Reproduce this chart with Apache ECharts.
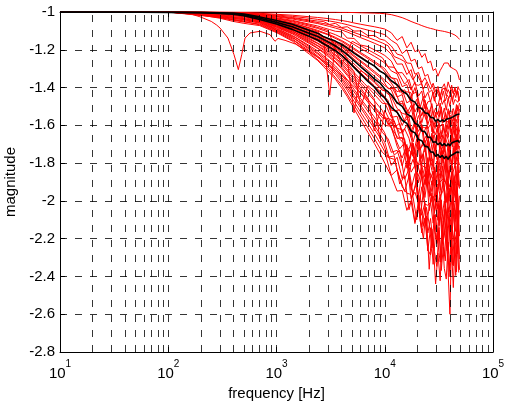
<!DOCTYPE html>
<html><head><meta charset="utf-8">
<script src="https://cdn.jsdelivr.net/npm/echarts@6/dist/echarts.min.js"></script>
<style>html,body{margin:0;padding:0;background:#fff}#c{width:507px;height:401px}</style>
</head><body><div id="c"></div>
<script>
// frequency grid [Hz]
const freq = [10,30,100,200,300,400,500,700,1000,1400,2000,2400,2700,3100,3500,4000,4500,5200,6000,7000,8000,9000,
  10000,11500,13000,14500,16000,17500,19000,20500,22000,23500,25000,26500,28000,29500,31000,32500,34000,35500,37000,38500,40000,41500,43000,44500,46000,47500,49000];
// second (offset) frequency grid used by another group of measurements
const freq2 = [10,100,300,500,700,1000,1500,2000,3000,4000,5000,6500,8000,9500,
  10750,12250,13750,15250,16750,18250,19750,21250,22750,24250,25750,27250,28750,30250,31750,33250,34750,36250,37750,39250,40750,42250,43750,45250,46750,48250];

// red measurement curves (grid: freq)
const topCurve = [-1,-1,-1,-1,-1,-1,-1,-1,-1,-1,-1,-1,-1,-1.001,-1.001,-1.002,-1.002,-1.003,-1.004,-1.005,-1.006,-1.007,
  -1.009,-1.014,-1.022,-1.03,-1.04,-1.05,-1.058,-1.065,-1.072,-1.078,-1.083,-1.087,-1.09,-1.094,-1.097,-1.099,-1.101,-1.103,-1.105,-1.108,-1.111,-1.114,-1.118,-1.122,-1.128,-1.135,-1.145];
const b1 = [-1,-1,-1,-1,-1.001,-1.002,-1.003,-1.007,-1.012,-1.017,-1.025,-1.029,-1.032,-1.036,-1.04,-1.045,-1.05,-1.058,-1.065,-1.072,-1.078,-1.084,
  -1.09,-1.11,-1.15,-1.13,-1.19,-1.16,-1.21,-1.20,-1.24,-1.22,-1.27,-1.26,-1.31,-1.30,-1.34,-1.31,-1.29,-1.27,-1.28,-1.27,-1.29,-1.28,-1.30,-1.29,-1.31,-1.33,-1.36];
const b2 = [-1,-1,-1,-1.001,-1.002,-1.003,-1.004,-1.01,-1.016,-1.023,-1.033,-1.039,-1.043,-1.048,-1.053,-1.06,-1.067,-1.077,-1.086,-1.096,-1.104,-1.112,
  -1.12,-1.15,-1.17,-1.22,-1.20,-1.26,-1.25,-1.30,-1.29,-1.34,-1.33,-1.38,-1.40,-1.44,-1.41,-1.45,-1.40,-1.38,-1.42,-1.37,-1.40,-1.39,-1.43,-1.41,-1.44,-1.42,-1.47];
const c1 = [-1,-1,-1,-1.001,-1.002,-1.003,-1.006,-1.012,-1.02,-1.029,-1.042,-1.048,-1.05,-1.066,-1.06,-1.082,-1.078,-1.101,-1.10,-1.125,-1.124,-1.143,
  -1.15,-1.18,-1.223,-1.231,-1.27,-1.272,-1.329,-1.32,-1.374,-1.348,-1.377,-1.408,-1.377,-1.421,-1.394,-1.447,-1.411,-1.402,-1.444,-1.411,-1.432,-1.387,-1.433,-1.397,-1.435,-1.395,-1.415];
const c2 = [-1,-1,-1,-1.001,-1.003,-1.004,-1.007,-1.016,-1.026,-1.037,-1.053,-1.061,-1.068,-1.077,-1.085,-1.095,-1.106,-1.121,-1.136,-1.151,-1.165,-1.178,
  -1.19,-1.224,-1.276,-1.275,-1.331,-1.305,-1.384,-1.388,-1.378,-1.455,-1.425,-1.476,-1.423,-1.479,-1.498,-1.445,-1.489,-1.464,-1.52,-1.456,-1.5,-1.441,-1.49,-1.463,-1.467,-1.478,-1.448];
const c3 = [-1,-1,-1,-1.002,-1.003,-1.005,-1.009,-1.019,-1.031,-1.044,-1.064,-1.074,-1.083,-1.093,-1.102,-1.105,-1.138,-1.14,-1.175,-1.183,-1.20,-1.215,
  -1.23,-1.26,-1.322,-1.321,-1.355,-1.413,-1.37,-1.445,-1.418,-1.512,-1.476,-1.47,-1.548,-1.508,-1.542,-1.482,-1.554,-1.508,-1.57,-1.512,-1.539,-1.527,-1.511,-1.544,-1.49,-1.524,-1.482];
const c4 = [-1,-1,-1,-1.002,-1.004,-1.006,-1.01,-1.022,-1.037,-1.052,-1.075,-1.087,-1.097,-1.109,-1.12,-1.136,-1.151,-1.172,-1.194,-1.215,-1.234,-1.252,
  -1.27,-1.312,-1.327,-1.395,-1.384,-1.461,-1.40,-1.481,-1.519,-1.467,-1.54,-1.517,-1.602,-1.531,-1.589,-1.522,-1.587,-1.56,-1.57,-1.585,-1.545,-1.597,-1.554,-1.601,-1.522,-1.575,-1.513];
const c5 = [-1,-1,-1,-1.002,-1.004,-1.007,-1.011,-1.025,-1.041,-1.058,-1.083,-1.097,-1.108,-1.121,-1.134,-1.151,-1.168,-1.192,-1.215,-1.239,-1.261,-1.281,
  -1.30,-1.348,-1.355,-1.433,-1.422,-1.428,-1.53,-1.492,-1.548,-1.49,-1.597,-1.549,-1.641,-1.579,-1.615,-1.607,-1.591,-1.638,-1.577,-1.621,-1.566,-1.646,-1.582,-1.651,-1.569,-1.59,-1.631];
const c6 = [-1,-1,-1,-1.003,-1.005,-1.007,-1.012,-1.027,-1.045,-1.064,-1.092,-1.106,-1.13,-1.44,-1.16,-1.166,-1.185,-1.211,-1.237,-1.263,-1.287,-1.309,
  -1.33,-1.376,-1.422,-1.411,-1.481,-1.467,-1.576,-1.502,-1.586,-1.521,-1.618,-1.594,-1.621,-1.649,-1.604,-1.673,-1.625,-1.688,-1.598,-1.664,-1.586,-1.667,-1.64,-1.595,-1.68,-1.607,-1.67];
const c7 = [-1,-1,-1,-1.003,-1.005,-1.008,-1.013,-1.029,-1.049,-1.069,-1.10,-1.116,-1.129,-1.145,-1.16,-1.181,-1.201,-1.23,-1.258,-1.287,-1.313,-1.337,
  -1.36,-1.392,-1.45,-1.437,-1.537,-1.494,-1.61,-1.548,-1.607,-1.613,-1.613,-1.678,-1.622,-1.683,-1.622,-1.723,-1.651,-1.739,-1.648,-1.674,-1.719,-1.619,-1.694,-1.625,-1.731,-1.651,-1.628];
const c8 = [-1,-1,-1,-1.003,-1.006,-1.009,-1.015,-1.032,-1.053,-1.075,-1.108,-1.125,-1.14,-1.157,-1.174,-1.196,-1.218,-1.249,-1.28,-1.311,-1.339,-1.365,
  -1.39,-1.412,-1.487,-1.47,-1.56,-1.548,-1.588,-1.632,-1.596,-1.693,-1.657,-1.74,-1.651,-1.738,-1.65,-1.752,-1.724,-1.678,-1.783,-1.699,-1.769,-1.647,-1.727,-1.752,-1.649,-1.725,-1.679];
const c9 = [-1,-1,-1,-1.004,-1.007,-1.011,-1.016,-1.034,-1.057,-1.081,-1.116,-1.135,-1.151,-1.17,-1.187,-1.211,-1.245,-1.535,-1.31,-1.335,-1.365,-1.393,
  -1.42,-1.449,-1.51,-1.536,-1.544,-1.635,-1.579,-1.663,-1.608,-1.742,-1.679,-1.791,-1.703,-1.743,-1.798,-1.69,-1.78,-1.708,-1.835,-1.745,-1.715,-1.817,-1.731,-1.78,-1.67,-1.788,-1.709];
const c10 = [-1,-1,-1,-1.005,-1.009,-1.014,-1.017,-1.037,-1.061,-1.087,-1.125,-1.145,-1.162,-1.182,-1.201,-1.226,-1.252,-1.287,-1.323,-1.359,-1.391,-1.421,
  -1.45,-1.52,-1.526,-1.601,-1.545,-1.664,-1.588,-1.725,-1.714,-1.679,-1.82,-1.738,-1.835,-1.71,-1.809,-1.845,-1.733,-1.824,-1.768,-1.88,-1.752,-1.837,-1.721,-1.822,-1.768,-1.783,-1.81];
const c11 = [-1,-1,-1,-1.006,-1.011,-1.017,-1.021,-1.039,-1.065,-1.093,-1.133,-1.154,-1.172,-1.194,-1.214,-1.241,-1.268,-1.315,-1.50,-1.39,-1.417,-1.449,
  -1.48,-1.558,-1.552,-1.644,-1.597,-1.664,-1.753,-1.651,-1.776,-1.713,-1.88,-1.792,-1.777,-1.907,-1.817,-1.88,-1.761,-1.901,-1.808,-1.927,-1.816,-1.863,-1.843,-1.814,-1.876,-1.781,-1.852];
const c12 = [-1,-1,-1,-1.007,-1.014,-1.021,-1.025,-1.042,-1.071,-1.10,-1.144,-1.167,-1.187,-1.21,-1.232,-1.261,-1.291,-1.332,-1.373,-1.414,-1.46,-1.67,
  -1.52,-1.592,-1.616,-1.622,-1.764,-1.691,-1.811,-1.685,-1.815,-1.874,-1.771,-1.885,-1.841,-1.979,-1.838,-1.941,-1.815,-1.936,-1.882,-1.90,-1.927,-1.851,-1.946,-1.871,-1.955,-1.818,-1.921];
const c13 = [-1,-1,-1,-1.008,-1.016,-1.025,-1.03,-1.046,-1.076,-1.108,-1.155,-1.18,-1.201,-1.226,-1.249,-1.281,-1.313,-1.358,-1.402,-1.455,-1.63,-1.53,
  -1.56,-1.569,-1.67,-1.663,-1.827,-1.749,-1.743,-1.904,-1.824,-1.914,-1.805,-1.973,-1.889,-2.034,-1.914,-1.975,-1.956,-1.932,-2.008,-1.903,-1.979,-1.88,-2.019,-1.91,-2.028,-1.893,-1.935];
const c14 = [-1,-1,-1,-1.009,-1.019,-1.029,-1.035,-1.049,-1.082,-1.116,-1.166,-1.193,-1.215,-1.242,-1.267,-1.301,-1.336,-1.383,-1.431,-1.478,-1.521,-1.561,
  -1.60,-1.605,-1.711,-1.773,-1.701,-1.848,-1.812,-1.981,-1.847,-1.982,-1.867,-2.014,-1.975,-2.007,-2.042,-1.966,-2.076,-2.00,-2.10,-1.95,-2.06,-1.926,-2.062,-2.017,-1.941,-2.089,-1.973];
const c15 = [-1,-1,-1,-1.011,-1.022,-1.034,-1.041,-1.052,-1.087,-1.124,-1.177,-1.206,-1.23,-1.258,-1.285,-1.322,-1.358,-1.409,-1.459,-1.51,-1.556,-1.599,
  -1.64,-1.743,-1.732,-1.815,-1.724,-1.94,-1.855,-2.041,-1.925,-2.018,-2.023,-2.008,-2.118,-2.011,-2.103,-1.998,-2.163,-2.046,-2.189,-2.035,-2.079,-2.152,-1.982,-2.11,-1.993,-2.178,-2.05];
const c16 = [-1,-1,-1,-1.012,-1.026,-1.039,-1.047,-1.056,-1.094,-1.133,-1.191,-1.222,-1.248,-1.278,-1.307,-1.347,-1.386,-1.441,-1.495,-1.55,-1.60,-1.646,
  -1.69,-1.812,-1.769,-1.883,-1.788,-1.988,-1.954,-2.012,-2.076,-2.009,-2.17,-2.093,-2.237,-2.072,-2.208,-2.057,-2.225,-2.182,-2.098,-2.278,-2.134,-2.249,-2.04,-2.18,-2.22,-2.05,-2.187];
const c17 = [-1,-1,-1,-1.014,-1.029,-1.044,-1.053,-1.064,-1.101,-1.143,-1.205,-1.238,-1.266,-1.299,-1.33,-1.372,-1.414,-1.473,-1.531,-1.59,-1.643,-1.692,
  -1.74,-1.865,-1.836,-1.926,-1.959,-1.966,-2.111,-2.004,-2.138,-2.039,-2.265,-2.142,-2.336,-2.17,-2.227,-2.323,-2.128,-2.289,-2.159,-2.38,-2.60,-2.167,-2.344,-2.196,-2.279,-2.095,-2.308];
const c18 = [-1,-1,-1,-1.016,-1.033,-1.05,-1.06,-1.072,-1.109,-1.154,-1.222,-1.257,-1.287,-1.323,-1.356,-1.402,-1.447,-1.511,-1.574,-1.638,-1.695,-1.748,
  -1.80,-1.869,-1.948,-1.945,-2.05,-2.0,-2.12,-2.03,-2.17,-2.09,-2.26,-2.286,-2.214,-2.44,-2.277,-2.423,-2.185,-2.358,-2.414,-2.218,-2.372,-2.269,-2.459,-2.235,-2.376,-2.178,-2.365];

// red measurement curves (grid: freq2)
const d1 = [-1,-1,-1.003,-1.006,-1.014,-1.023,-1.035,-1.047,-1.066,-1.085,-1.105,-1.128,-1.147,-1.164,
  -1.179,-1.236,-1.248,-1.262,-1.317,-1.359,-1.327,-1.363,-1.408,-1.372,-1.425,-1.412,-1.472,-1.419,-1.446,-1.465,-1.418,-1.471,-1.44,-1.457,-1.415,-1.474,-1.429,-1.453,-1.415,-1.469];
const d2 = [-1,-1,-1.004,-1.009,-1.02,-1.034,-1.051,-1.069,-1.098,-1.28,-1.155,-1.19,-1.218,-1.242,
  -1.29,-1.293,-1.335,-1.382,-1.357,-1.432,-1.423,-1.505,-1.447,-1.496,-1.534,-1.485,-1.564,-1.53,-1.555,-1.502,-1.585,-1.532,-1.568,-1.523,-1.591,-1.524,-1.579,-1.529,-1.495,-1.555];
const d3 = [-1,-1,-1.005,-1.012,-1.025,-1.042,-1.064,-1.086,-1.121,-1.156,-1.192,-1.235,-1.269,-1.299,
  -1.338,-1.357,-1.425,-1.412,-1.457,-1.509,-1.462,-1.557,-1.531,-1.574,-1.53,-1.634,-1.586,-1.632,-1.585,-1.662,-1.593,-1.66,-1.61,-1.575,-1.64,-1.66,-1.582,-1.603,-1.64,-1.566];
const d4 = [-1,-1,-1.005,-1.014,-1.03,-1.05,-1.076,-1.103,-1.145,-1.186,-1.229,-1.28,-1.322,-1.357,
  -1.406,-1.404,-1.484,-1.488,-1.539,-1.495,-1.628,-1.577,-1.645,-1.605,-1.711,-1.642,-1.733,-1.68,-1.641,-1.721,-1.752,-1.664,-1.694,-1.742,-1.652,-1.713,-1.668,-1.747,-1.642,-1.685];
const d5 = [-1,-1,-1.006,-1.016,-1.035,-1.059,-1.088,-1.119,-1.168,-1.216,-1.266,-1.326,-1.373,-1.415,
  -1.418,-1.523,-1.518,-1.579,-1.554,-1.689,-1.617,-1.731,-1.682,-1.654,-1.763,-1.813,-1.722,-1.764,-1.824,-1.721,-1.799,-1.752,-1.85,-1.731,-1.78,-1.81,-1.708,-1.808,-1.742,-1.778];
const d6 = [-1,-1,-1.007,-1.019,-1.041,-1.068,-1.103,-1.139,-1.196,-1.251,-1.31,-1.379,-1.435,-1.483,
  -1.488,-1.584,-1.643,-1.618,-1.668,-1.763,-1.671,-1.783,-1.749,-1.883,-1.766,-1.839,-1.893,-1.789,-1.912,-1.842,-1.884,-1.79,-1.934,-1.838,-1.902,-1.816,-1.933,-1.815,-1.916,-1.837];
const d7 = [-1,-1,-1.008,-1.02,-1.044,-1.074,-1.111,-1.15,-1.211,-1.271,-1.334,-1.409,-1.469,-1.521,
  -1.597,-1.576,-1.667,-1.672,-1.815,-1.695,-1.788,-1.858,-1.755,-1.914,-1.852,-1.915,-1.822,-1.992,-1.888,-1.962,-1.874,-2.011,-1.885,-2.002,-1.912,-1.843,-1.956,-1.995,-1.857,-1.903];
const d8 = [-1,-1,-1.009,-1.022,-1.047,-1.079,-1.119,-1.161,-1.227,-1.292,-1.359,-1.439,-1.504,-1.56,
  -1.572,-1.656,-1.724,-1.693,-1.835,-1.78,-1.86,-1.767,-1.972,-1.876,-1.977,-1.895,-2.062,-1.93,-2.064,-1.966,-1.898,-2.03,-2.08,-1.93,-1.98,-2.054,-1.90,-2.004,-1.93,-2.072];
const d9 = [-1,-1,-1.02,-1.035,-1.054,-1.09,-1.136,-1.183,-1.258,-1.332,-1.409,-1.50,-1.574,-1.637,
  -1.672,-1.757,-1.733,-1.885,-1.831,-1.966,-1.88,-2.09,-1.95,-2.133,-2.036,-1.973,-2.147,-2.217,-2.041,-2.103,-2.202,-2.024,-2.156,-2.072,-2.24,-2.029,-2.109,-2.162,-1.989,-2.171];
const d10 = [-1,-1,-1.025,-1.04,-1.06,-1.097,-1.146,-1.197,-1.278,-1.357,-1.439,-1.538,-1.617,-1.685,
  -1.768,-1.762,-1.911,-1.867,-2.047,-1.958,-1.904,-2.105,-2.199,-2.034,-2.123,-2.249,-2.074,-2.227,-2.141,-2.325,-2.107,-2.20,-2.265,-2.083,-2.278,-2.154,-2.214,-2.05,-2.28,-2.126];
const d11 = [-1,-1,-1.03,-1.05,-1.068,-1.105,-1.158,-1.213,-1.301,-1.387,-1.477,-1.583,-1.669,-1.743,
  -1.77,-1.78,-1.88,-1.95,-1.87,-1.98,-2.10,-1.97,-2.13,-2.08,-2.362,-2.148,-2.267,-2.347,-2.156,-2.369,-2.245,-2.318,-2.15,-2.402,-2.234,-2.338,-2.193,-2.395,-2.194,-2.379];
const d12 = [-1,-1,-1.007,-1.017,-1.037,-1.061,-1.092,-1.125,-1.176,-1.226,-1.279,-1.341,-1.391,-1.434,
  -1.469,-1.611,-1.589,-1.681,-1.785,-1.696,-1.891,-1.84,-1.926,-1.842,-2.052,-1.959,-2.063,-1.975,-2.131,-1.994,-2.127,-2.03,-1.96,-2.09,-2.14,-1.981,-2.025,-2.096,-1.94,-2.053];

// curve with the sharp notch near 440 Hz (own frequency points)
const notchFreq = [10,100,150,196,250,280,301,356,405,444,477,512,569,705,871,968,1033,1200,1500,2000,2700,3500,4500,6000,8000,10000,13000,16000,20000,25000,30000,35000,40000,45000,49000];
const notchVals = [-1,-1,-1.005,-1.025,-1.05,-1.069,-1.085,-1.138,-1.226,-1.305,-1.226,-1.138,-1.111,-1.102,-1.12,-1.155,-1.14,-1.15,-1.17,-1.21,-1.26,-1.31,-1.36,-1.43,-1.50,-1.56,-1.66,-1.71,-1.80,-1.83,-1.92,-1.88,-1.95,-1.86,-1.93];

// black summary curves (grid: freq)
const upperBand = [-1,-1,-1.001,-1.002,-1.004,-1.006,-1.011,-1.026,-1.045,-1.065,-1.096,-1.112,-1.129,-1.143,-1.154,-1.172,-1.191,-1.218,-1.241,-1.266,
  -1.285,-1.313,-1.327,-1.364,-1.385,-1.418,-1.434,-1.466,-1.477,-1.506,-1.511,-1.534,-1.537,-1.558,-1.559,-1.578,-1.569,-1.581,-1.571,-1.58,-1.568,-1.577,-1.563,-1.569,-1.554,-1.56,-1.544,-1.551,-1.54];
const meanCurve = [-1,-1,-1.001,-1.003,-1.006,-1.009,-1.015,-1.033,-1.055,-1.078,-1.112,-1.13,-1.145,-1.163,-1.18,-1.203,-1.226,-1.258,-1.29,-1.322,
  -1.354,-1.375,-1.408,-1.438,-1.48,-1.5,-1.539,-1.553,-1.589,-1.599,-1.63,-1.634,-1.663,-1.664,-1.69,-1.687,-1.703,-1.692,-1.708,-1.696,-1.71,-1.697,-1.709,-1.693,-1.703,-1.686,-1.695,-1.681,-1.692];
const lowerBand = [-1,-1,-1.002,-1.004,-1.008,-1.012,-1.02,-1.04,-1.064,-1.092,-1.129,-1.148,-1.167,-1.187,-1.205,-1.23,-1.257,-1.293,-1.329,-1.368,
  -1.397,-1.434,-1.455,-1.505,-1.531,-1.573,-1.59,-1.629,-1.64,-1.675,-1.681,-1.711,-1.714,-1.741,-1.742,-1.764,-1.754,-1.77,-1.759,-1.776,-1.764,-1.78,-1.763,-1.773,-1.753,-1.762,-1.742,-1.752,-1.743];

// vertical grid line positions (decades and 2..9 subdivisions)
const xGrid = [20,30,40,50,60,70,80,90,100,200,300,400,500,600,700,800,900,1000,2000,3000,4000,5000,6000,7000,8000,9000,10000,20000,30000,40000,50000,60000,70000,80000,90000];

const redOnFreq = [c18,c17,c16,c15,c14,c13,c12,c11,c10,c9,c8,c7,c6,c5,c4,c3,c2,c1,b2,b1,topCurve];
const redOnFreq2 = [d11,d10,d9,d8,d7,d6,d12,d5,d4,d3,d2,d1];
const pairs = (xs, ys) => xs.map((x, i) => [x, ys[i]]);
const FONT = '"Liberation Sans", Arial, Helvetica, sans-serif';
const DASH = [7, 8];
const RED = {color: '#ff0000', width: 1};

const series = [];
series.push({
  type: 'line', data: [[10, -1]], showSymbol: false, silent: true, z: 1,
  lineStyle: {width: 0},
  markLine: {
    silent: true, symbol: ['none', 'none'], animation: false,
    label: {show: false},
    lineStyle: {type: DASH, color: '#000', width: 0.8},
    emphasis: {disabled: true},
    data: xGrid.map(v => ({xAxis: v}))
  }
});
const addRed = (xs, ys) => series.push({
  type: 'line', data: pairs(xs, ys), showSymbol: false, silent: true, z: 2,
  lineStyle: RED, itemStyle: {color: '#ff0000'}
});
redOnFreq2.forEach(c => addRed(freq2, c));
redOnFreq.forEach(c => addRed(freq, c));
addRed(notchFreq, notchVals);
[upperBand, meanCurve, lowerBand].forEach(c => series.push({
  type: 'line', data: pairs(freq, c), showSymbol: false, silent: true, z: 3,
  lineStyle: {color: '#000', width: 1.6}
}));

const chart = echarts.init(document.getElementById('c'), null, {renderer: 'canvas'});
chart.setOption({
  animation: false,
  backgroundColor: '#fff',
  grid: {left: 60, right: 14, top: 12, bottom: 49, containLabel: false, outerBoundsMode: 'none'},
  xAxis: [{
    type: 'log', logBase: 10, min: 10, max: 100000,
    name: 'frequency [Hz]', nameLocation: 'middle', nameGap: 30,
    nameTextStyle: {fontSize: 15, fontFamily: FONT, color: '#000'},
    axisLine: {show: true, lineStyle: {color: '#000', width: 1}},
    axisTick: {show: true, inside: true, length: 5, lineStyle: {color: '#000'}},
    splitLine: {show: false},
    axisLabel: {
      margin: 7, color: '#000',
      formatter: v => '{b|10}{s|' + Math.round(Math.log10(v)) + '}',
      rich: {
        b: {fontSize: 15, fontFamily: FONT, color: '#000', lineHeight: 22, verticalAlign: 'bottom'},
        s: {fontSize: 10, fontFamily: FONT, color: '#000', lineHeight: 22, verticalAlign: 'top'}
      }
    }
  }, {
    type: 'log', logBase: 10, min: 10, max: 100000, position: 'top',
    axisLine: {show: true, lineStyle: {color: '#000', width: 1}},
    axisTick: {show: true, inside: true, length: 5, lineStyle: {color: '#000'}},
    axisLabel: {show: false}, splitLine: {show: false}
  }],
  yAxis: [{
    type: 'value', min: -2.8, max: -1, interval: 0.2,
    name: 'magnitude', nameLocation: 'middle', nameGap: 39,
    nameTextStyle: {fontSize: 15, fontFamily: FONT, color: '#000'},
    axisLine: {show: true, lineStyle: {color: '#000', width: 1}},
    axisTick: {show: true, inside: true, length: 5, lineStyle: {color: '#000'}},
    axisLabel: {fontSize: 15, fontFamily: FONT, color: '#000', margin: 5},
    splitLine: {show: true, lineStyle: {type: DASH, color: '#000', width: 0.8}}
  }, {
    type: 'value', min: -2.8, max: -1, interval: 0.2, position: 'right',
    axisLine: {show: true, lineStyle: {color: '#000', width: 1}},
    axisTick: {show: true, inside: true, length: 5, lineStyle: {color: '#000'}},
    axisLabel: {show: false}, splitLine: {show: false}
  }],
  series: series
});
</script>
</body></html>
